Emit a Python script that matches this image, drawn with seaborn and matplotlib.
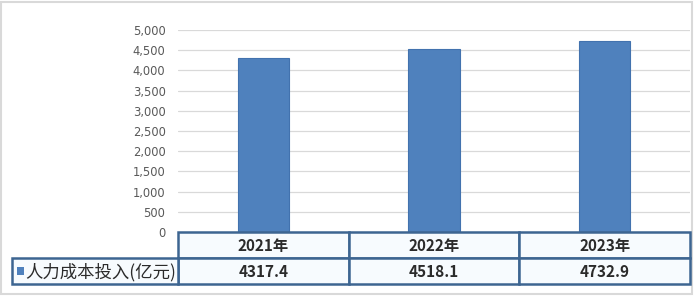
import matplotlib
matplotlib.use("Agg")
import matplotlib.pyplot as plt
from matplotlib.patches import Rectangle
import seaborn as sns
import pandas as pd

years = ["2021年", "2022年", "2023年"]
values = [4317.4, 4518.1, 4732.9]
series_name = "人力成本投入(亿元)"
yticks = [0, 500, 1000, 1500, 2000, 2500, 3000, 3500, 4000, 4500, 5000]

sns.set_style("white")
plt.rcParams["font.family"] = ["Noto Sans CJK SC", "DejaVu Sans"]

BLUE = "#4F81BD"
BORDER = "#3D6591"
CELL = "#F7FBFE"

df = pd.DataFrame({"year": years, "value": values})

fig = plt.figure(figsize=(6.94, 2.96), dpi=100)
W, H = 694, 296
ax = fig.add_axes([178 / W, (H - 232) / H, 512 / W, 202 / H])

sns.barplot(data=df, x="year", y="value", color=BLUE, width=0.3,
            saturation=1, edgecolor="#4272AE", linewidth=0.8, ax=ax, zorder=3)
ax.set_ylim(0, 5000)
ax.set_xlim(-0.5, 2.5)
ax.set_yticks(yticks)
ax.set_yticklabels([f"{v:,}" for v in yticks], family="DejaVu Sans",
                   fontsize=8.3, color="#595959")
ax.tick_params(axis="y", length=0, pad=9)
ax.set_xticks([])
ax.set_xlabel("")
ax.set_ylabel("")
ax.grid(axis="y", color="#D9D9D9", linewidth=0.9, zorder=0)
for s in ax.spines.values():
    s.set_visible(False)

def fy(py):
    return (H - py) / H

def fx(px):
    return px / W

row1_top, row1_bot, row2_bot = 232, 258, 284
left_x, ax_left, ax_right = 12, 178, 690
col_w = (ax_right - ax_left) / len(years)

for i, yr in enumerate(years):
    x0 = ax_left + i * col_w
    fig.patches.append(Rectangle((fx(x0), fy(row1_bot)), col_w / W,
                                 (row1_bot - row1_top) / H,
                                 transform=fig.transFigure, facecolor=CELL,
                                 edgecolor=BORDER, linewidth=1.8, zorder=5))
    fig.text(fx(x0 + col_w / 2), fy((row1_top + row1_bot) / 2 + 1), yr,
             ha="center", va="center", fontsize=11, fontweight="bold",
             color="#2B2B2B", zorder=6)
    fig.patches.append(Rectangle((fx(x0), fy(row2_bot)), col_w / W,
                                 (row2_bot - row1_bot) / H,
                                 transform=fig.transFigure, facecolor=CELL,
                                 edgecolor=BORDER, linewidth=1.8, zorder=5))
    fig.text(fx(x0 + col_w / 2), fy((row1_bot + row2_bot) / 2 + 1),
             f"{values[i]}", ha="center", va="center", fontsize=11,
             fontweight="bold", color="#2B2B2B", zorder=6)

fig.patches.append(Rectangle((fx(left_x), fy(row2_bot)), (ax_left - left_x) / W,
                             (row2_bot - row1_bot) / H,
                             transform=fig.transFigure, facecolor=CELL,
                             edgecolor=BORDER, linewidth=1.8, zorder=5))
fig.patches.append(Rectangle((fx(17), fy(275)), 7 / W, 8 / H,
                             transform=fig.transFigure, facecolor=BLUE,
                             edgecolor="none", zorder=6))
fig.text(fx(25), fy((row1_bot + row2_bot) / 2 + 1), series_name,
         ha="left", va="center", fontsize=12.5, color="#2B2B2B", zorder=6)

fig.patches.append(Rectangle((0.5 / W, 2 / H), (W - 3) / W, (H - 4) / H,
                             transform=fig.transFigure, facecolor="none",
                             edgecolor="#D9D9D9", linewidth=1.5, zorder=1))

fig.savefig("out.png", dpi=100)
